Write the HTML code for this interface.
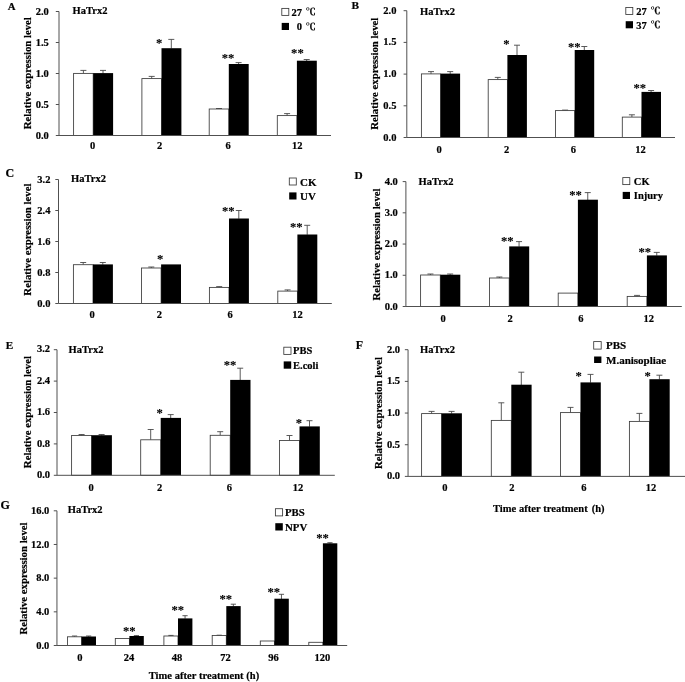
<!DOCTYPE html>
<html lang="en"><head><meta charset="utf-8"><title>HaTrx2 relative expression</title>
<style>
html,body{margin:0;padding:0;background:#fff;}
body{width:685px;height:682px;overflow:hidden;}
svg{display:block;}
svg text{font-family:"Liberation Serif","Noto Serif CJK SC",serif;font-weight:bold;font-size:10.5px;fill:#000;stroke:#000;stroke-width:0.2px;}
.ax{stroke:#505050;stroke-width:1;fill:none;}
.eb{stroke:#484848;stroke-width:0.9;fill:none;}
.w{fill:#fff;stroke:#3a3a3a;stroke-width:0.85;}
.k{fill:#000;stroke:none;}
svg text.st{font-size:12.6px;stroke-width:0.1px;}
.deg{stroke:#000;stroke-width:0.25;font-family:"Noto Serif CJK SC","Noto Sans CJK SC",serif;font-weight:700;}
</style></head><body>
<svg width="685" height="682" viewBox="0 0 685 682">
<rect x="0" y="0" width="685" height="682" fill="#fff"/>
<g>
<text x="7.8" y="10.1" style="font-size:10.8px">A</text>
<path class="eb" d="M83.4 73.4V70.4M80.4 70.4H86.4"/>
<path class="eb" d="M103 73.4V70.4M100 70.4H106"/>
<rect class="w" x="73.6" y="73.4" width="19.6" height="62.1"/>
<rect class="k" x="93.2" y="73.1" width="19.9" height="62.4"/>
<path class="eb" d="M151.7 78.6V76.4M148.7 76.4H154.7"/>
<path class="eb" d="M171.3 48.5V39.4M168.3 39.4H174.3"/>
<rect class="w" x="141.9" y="78.6" width="19.6" height="56.9"/>
<rect class="k" x="161.5" y="48.2" width="19.9" height="87.3"/>
<path class="eb" d="M219 109V108.5M216 108.5H222"/>
<path class="eb" d="M238.6 64.3V62.6M235.6 62.6H241.6"/>
<rect class="w" x="209.2" y="109" width="19.6" height="26.5"/>
<rect class="k" x="228.8" y="64" width="19.9" height="71.5"/>
<path class="eb" d="M287.1 115.6V113.6M284.1 113.6H290.1"/>
<path class="eb" d="M306.7 61V59.5M303.7 59.5H309.7"/>
<rect class="w" x="277.3" y="115.6" width="19.6" height="19.9"/>
<rect class="k" x="296.9" y="60.7" width="19.9" height="74.8"/>
<path class="ax" d="M59 11.5V135.5H331"/>
<path class="ax" d="M55.8 135.5H59"/>
<text x="48.8" y="138.5" text-anchor="end">0.0</text>
<path class="ax" d="M55.8 104.5H59"/>
<text x="48.8" y="107.5" text-anchor="end">0.5</text>
<path class="ax" d="M55.8 73.5H59"/>
<text x="48.8" y="76.5" text-anchor="end">1.0</text>
<path class="ax" d="M55.8 42.5H59"/>
<text x="48.8" y="45.5" text-anchor="end">1.5</text>
<path class="ax" d="M55.8 11.5H59"/>
<text x="48.8" y="14.5" text-anchor="end">2.0</text>
<text x="72.6" y="13.8">HaTrx2</text>
<text transform="translate(31 73.2) rotate(-90)" text-anchor="middle" style="font-size:10.75px">Relative expression level</text>
<text x="92.6" y="149.4" text-anchor="middle">0</text>
<text x="159.7" y="149.4" text-anchor="middle">2</text>
<text x="228.1" y="149.4" text-anchor="middle">6</text>
<text x="297.3" y="149.4" text-anchor="middle">12</text>
<text x="159.1" y="47.1" text-anchor="middle" class="st">*</text>
<text x="228.1" y="62.1" text-anchor="middle" class="st">**</text>
<text x="297.4" y="57.1" text-anchor="middle" class="st">**</text>
<rect class="w" x="281.8" y="8.4" width="7" height="7"/>
<rect class="k" x="281.7" y="22.9" width="7.3" height="7.1"/>
<text x="301.9" y="15.6" text-anchor="end" style="font-size:10.5px">27</text>
<text class="deg" transform="translate(305.8 15.1) scale(1.12 1)" style="font-size:8.9px">℃</text>
<text x="301.9" y="30.3" text-anchor="end" style="font-size:10.5px">0</text>
<text class="deg" transform="translate(305.8 29.8) scale(1.12 1)" style="font-size:8.9px">℃</text>
</g>
<g>
<text x="351.5" y="8.6" style="font-size:11.3px">B</text>
<path class="eb" d="M431 73.9V71.6M428 71.6H434"/>
<path class="eb" d="M450.2 73.9V71.6M447.2 71.6H453.2"/>
<rect class="w" x="421.4" y="73.9" width="19.2" height="63.6"/>
<rect class="k" x="440.6" y="73.6" width="19.5" height="63.9"/>
<path class="eb" d="M497.8 79.6V77.4M494.8 77.4H500.8"/>
<path class="eb" d="M517 55.3V45.2M514 45.2H520"/>
<rect class="w" x="488.2" y="79.6" width="19.2" height="57.9"/>
<rect class="k" x="507.4" y="55" width="19.5" height="82.5"/>
<path class="eb" d="M565.1 110.6V110.1M562.1 110.1H568.1"/>
<path class="eb" d="M584.3 50.3V46.5M581.3 46.5H587.3"/>
<rect class="w" x="555.5" y="110.6" width="19.2" height="26.9"/>
<rect class="k" x="574.7" y="50" width="19.5" height="87.5"/>
<path class="eb" d="M631.9 117.1V114.8M628.9 114.8H634.9"/>
<path class="eb" d="M651.1 92.2V90.5M648.1 90.5H654.1"/>
<rect class="w" x="622.3" y="117.1" width="19.2" height="20.4"/>
<rect class="k" x="641.5" y="91.9" width="19.5" height="45.6"/>
<path class="ax" d="M406.8 10.7V137.5H675"/>
<path class="ax" d="M403.6 137.5H406.8"/>
<text x="396.4" y="140.5" text-anchor="end">0.0</text>
<path class="ax" d="M403.6 105.8H406.8"/>
<text x="396.4" y="108.8" text-anchor="end">0.5</text>
<path class="ax" d="M403.6 74.1H406.8"/>
<text x="396.4" y="77.1" text-anchor="end">1.0</text>
<path class="ax" d="M403.6 42.4H406.8"/>
<text x="396.4" y="45.4" text-anchor="end">1.5</text>
<path class="ax" d="M403.6 10.7H406.8"/>
<text x="396.4" y="13.7" text-anchor="end">2.0</text>
<text x="420.1" y="14.6">HaTrx2</text>
<text transform="translate(378.3 73.7) rotate(-90)" text-anchor="middle" style="font-size:10.75px">Relative expression level</text>
<text x="439.2" y="152.6" text-anchor="middle">0</text>
<text x="506.6" y="152.6" text-anchor="middle">2</text>
<text x="573.3" y="152.6" text-anchor="middle">6</text>
<text x="640.6" y="152.6" text-anchor="middle">12</text>
<text x="506.3" y="47.6" text-anchor="middle" class="st">*</text>
<text x="574.3" y="50.9" text-anchor="middle" class="st">**</text>
<text x="639.7" y="92.3" text-anchor="middle" class="st">**</text>
<rect class="w" x="625.8" y="7.5" width="7" height="7"/>
<rect class="k" x="625.7" y="21.2" width="7.3" height="7.1"/>
<text x="646.7" y="14.7" text-anchor="end" style="font-size:10.5px">27</text>
<text class="deg" transform="translate(650.6 14.2) scale(1.12 1)" style="font-size:8.9px">℃</text>
<text x="646.7" y="28.6" text-anchor="end" style="font-size:10.5px">37</text>
<text class="deg" transform="translate(650.6 28.1) scale(1.12 1)" style="font-size:8.9px">℃</text>
</g>
<g>
<text x="5.5" y="177.1" style="font-size:12px">C</text>
<path class="eb" d="M83.2 264.7V262.5M80.2 262.5H86.2"/>
<path class="eb" d="M102.8 264.7V262.5M99.8 262.5H105.8"/>
<rect class="w" x="73.4" y="264.7" width="19.6" height="38.8"/>
<rect class="k" x="93" y="264.4" width="19.9" height="39.1"/>
<path class="eb" d="M151.3 268V267M148.3 267H154.3"/>
<rect class="w" x="141.5" y="268" width="19.6" height="35.5"/>
<rect class="k" x="161.1" y="264.4" width="19.9" height="39.1"/>
<path class="eb" d="M219.2 287.4V286.6M216.2 286.6H222.2"/>
<path class="eb" d="M238.8 218.8V210.5M235.8 210.5H241.8"/>
<rect class="w" x="209.4" y="287.4" width="19.6" height="16.1"/>
<rect class="k" x="229" y="218.5" width="19.9" height="85"/>
<path class="eb" d="M287.6 291.1V289.9M284.6 289.9H290.6"/>
<path class="eb" d="M307.2 234.8V225.3M304.2 225.3H310.2"/>
<rect class="w" x="277.8" y="291.1" width="19.6" height="12.4"/>
<rect class="k" x="297.4" y="234.5" width="19.9" height="69"/>
<path class="ax" d="M58.5 179.5V303.5H331.8"/>
<path class="ax" d="M55.3 303.5H58.5"/>
<text x="50.4" y="306.7" text-anchor="end">0.0</text>
<path class="ax" d="M55.3 272.5H58.5"/>
<text x="50.4" y="275.7" text-anchor="end">0.8</text>
<path class="ax" d="M55.3 241.5H58.5"/>
<text x="50.4" y="244.7" text-anchor="end">1.6</text>
<path class="ax" d="M55.3 210.5H58.5"/>
<text x="50.4" y="213.7" text-anchor="end">2.4</text>
<path class="ax" d="M55.3 179.5H58.5"/>
<text x="50.4" y="182.7" text-anchor="end">3.2</text>
<text x="71.1" y="182.2">HaTrx2</text>
<text transform="translate(31.3 239.6) rotate(-90)" text-anchor="middle" style="font-size:10.75px">Relative expression level</text>
<text x="92" y="317.9" text-anchor="middle">0</text>
<text x="159.3" y="317.9" text-anchor="middle">2</text>
<text x="230" y="317.9" text-anchor="middle">6</text>
<text x="297.6" y="317.9" text-anchor="middle">12</text>
<text x="160.1" y="263.4" text-anchor="middle" class="st">*</text>
<text x="228.3" y="215.4" text-anchor="middle" class="st">**</text>
<text x="296.2" y="230.5" text-anchor="middle" class="st">**</text>
<rect class="w" x="289.3" y="178" width="7" height="7"/>
<rect class="k" x="289.2" y="192.4" width="7.3" height="7.1"/>
<text x="300.1" y="185.9" style="font-size:11px">CK</text>
<text x="300.1" y="199.8" style="font-size:11px">UV</text>
</g>
<g>
<text x="354.5" y="179.4" style="font-size:11.3px">D</text>
<path class="eb" d="M430.45 275V274M427.45 274H433.45"/>
<path class="eb" d="M450.15 275V274M447.15 274H453.15"/>
<rect class="w" x="420.6" y="275" width="19.7" height="31.5"/>
<rect class="k" x="440.3" y="274.7" width="20" height="31.8"/>
<path class="eb" d="M499.35 278V277M496.35 277H502.35"/>
<path class="eb" d="M519.05 246.7V241.6M516.05 241.6H522.05"/>
<rect class="w" x="489.5" y="278" width="19.7" height="28.5"/>
<rect class="k" x="509.2" y="246.4" width="20" height="60.1"/>
<path class="eb" d="M587.75 200V192.6M584.75 192.6H590.75"/>
<rect class="w" x="558.2" y="293.1" width="19.7" height="13.4"/>
<rect class="k" x="577.9" y="199.7" width="20" height="106.8"/>
<path class="eb" d="M637.05 296.4V295.4M634.05 295.4H640.05"/>
<path class="eb" d="M656.75 255.7V252.4M653.75 252.4H659.75"/>
<rect class="w" x="627.2" y="296.4" width="19.7" height="10.1"/>
<rect class="k" x="646.9" y="255.4" width="20" height="51.1"/>
<path class="ax" d="M405.9 181.6V306.5H681.8"/>
<path class="ax" d="M402.7 306.5H405.9"/>
<text x="397.8" y="309.7" text-anchor="end">0.0</text>
<path class="ax" d="M402.7 275.27H405.9"/>
<text x="397.8" y="278.48" text-anchor="end">1.0</text>
<path class="ax" d="M402.7 244.05H405.9"/>
<text x="397.8" y="247.25" text-anchor="end">2.0</text>
<path class="ax" d="M402.7 212.82H405.9"/>
<text x="397.8" y="216.02" text-anchor="end">3.0</text>
<path class="ax" d="M402.7 181.6H405.9"/>
<text x="397.8" y="184.8" text-anchor="end">4.0</text>
<text x="418.6" y="185.1">HaTrx2</text>
<text transform="translate(379.9 244.5) rotate(-90)" text-anchor="middle" style="font-size:10.75px">Relative expression level</text>
<text x="443.2" y="322.1" text-anchor="middle">0</text>
<text x="510" y="322.1" text-anchor="middle">2</text>
<text x="580.8" y="322.1" text-anchor="middle">6</text>
<text x="648.7" y="322.1" text-anchor="middle">12</text>
<text x="507.3" y="244.5" text-anchor="middle" class="st">**</text>
<text x="575.6" y="199.3" text-anchor="middle" class="st">**</text>
<text x="644.7" y="255.9" text-anchor="middle" class="st">**</text>
<rect class="w" x="622.8" y="177.6" width="7" height="7"/>
<rect class="k" x="622.7" y="191.9" width="7.3" height="7.1"/>
<text x="633.8" y="184.8" style="font-size:10.5px">CK</text>
<text x="633.8" y="199.3" style="font-size:10.5px">Injury</text>
</g>
<g>
<text x="5.8" y="349.2" style="font-size:11.2px">E</text>
<path class="eb" d="M81.6 435.5V434.5M78.6 434.5H84.6"/>
<path class="eb" d="M101.6 435.5V434.5M98.6 434.5H104.6"/>
<rect class="w" x="71.6" y="435.5" width="20" height="39.8"/>
<rect class="k" x="91.6" y="435.2" width="20.3" height="40.1"/>
<path class="eb" d="M150.7 439.8V429.5M147.7 429.5H153.7"/>
<path class="eb" d="M170.7 418.2V414.6M167.7 414.6H173.7"/>
<rect class="w" x="140.7" y="439.8" width="20" height="35.5"/>
<rect class="k" x="160.7" y="417.9" width="20.3" height="57.4"/>
<path class="eb" d="M220.2 435.3V431.7M217.2 431.7H223.2"/>
<path class="eb" d="M240.2 380.2V368.2M237.2 368.2H243.2"/>
<rect class="w" x="210.2" y="435.3" width="20" height="40"/>
<rect class="k" x="230.2" y="379.9" width="20.3" height="95.4"/>
<path class="eb" d="M289.5 440.5V435.5M286.5 435.5H292.5"/>
<path class="eb" d="M309.5 426.7V420.7M306.5 420.7H312.5"/>
<rect class="w" x="279.5" y="440.5" width="20" height="34.8"/>
<rect class="k" x="299.5" y="426.4" width="20.3" height="48.9"/>
<path class="ax" d="M57 349.7V475.3H334.8"/>
<path class="ax" d="M53.8 475.3H57"/>
<text x="50.1" y="477.9" text-anchor="end">0.0</text>
<path class="ax" d="M53.8 443.9H57"/>
<text x="50.1" y="446.5" text-anchor="end">0.8</text>
<path class="ax" d="M53.8 412.5H57"/>
<text x="50.1" y="415.1" text-anchor="end">1.6</text>
<path class="ax" d="M53.8 381.1H57"/>
<text x="50.1" y="383.7" text-anchor="end">2.4</text>
<path class="ax" d="M53.8 349.7H57"/>
<text x="50.1" y="352.3" text-anchor="end">3.2</text>
<text x="68.6" y="353.1">HaTrx2</text>
<text transform="translate(31 412.1) rotate(-90)" text-anchor="middle" style="font-size:10.75px">Relative expression level</text>
<text x="91" y="490.7" text-anchor="middle">0</text>
<text x="159.5" y="490.7" text-anchor="middle">2</text>
<text x="229.3" y="490.7" text-anchor="middle">6</text>
<text x="298.1" y="490.7" text-anchor="middle">12</text>
<text x="159.6" y="416.8" text-anchor="middle" class="st">*</text>
<text x="230.1" y="369.3" text-anchor="middle" class="st">**</text>
<text x="298.9" y="427.1" text-anchor="middle" class="st">*</text>
<rect class="w" x="283.8" y="347.2" width="7.2" height="7.2"/>
<rect class="k" x="283.7" y="361.4" width="7.5" height="7.3"/>
<text x="293" y="353.9" style="font-size:10.5px">PBS</text>
<text x="293" y="369" style="font-size:10.5px">E.coli</text>
</g>
<g>
<text x="355.8" y="348.5" style="font-size:12px">F</text>
<path class="eb" d="M431.6 413.6V411.4M428.6 411.4H434.6"/>
<path class="eb" d="M451.6 413.6V411.4M448.6 411.4H454.6"/>
<rect class="w" x="421.6" y="413.6" width="20" height="62.8"/>
<rect class="k" x="441.6" y="413.3" width="20.3" height="63.1"/>
<path class="eb" d="M501.3 420.4V402.8M498.3 402.8H504.3"/>
<path class="eb" d="M521.3 385V372.2M518.3 372.2H524.3"/>
<rect class="w" x="491.3" y="420.4" width="20" height="56"/>
<rect class="k" x="511.3" y="384.7" width="20.3" height="91.7"/>
<path class="eb" d="M570.5 412.6V407.4M567.5 407.4H573.5"/>
<path class="eb" d="M590.5 382.7V374.4M587.5 374.4H593.5"/>
<rect class="w" x="560.5" y="412.6" width="20" height="63.8"/>
<rect class="k" x="580.5" y="382.4" width="20.3" height="94"/>
<path class="eb" d="M639.4 421.4V413.4M636.4 413.4H642.4"/>
<path class="eb" d="M659.4 379.5V375.2M656.4 375.2H662.4"/>
<rect class="w" x="629.4" y="421.4" width="20" height="55"/>
<rect class="k" x="649.4" y="379.2" width="20.3" height="97.2"/>
<path class="ax" d="M408.05 349.7V476.4H686"/>
<path class="ax" d="M404.85 476.4H408.05"/>
<text x="400" y="479.4" text-anchor="end">0.0</text>
<path class="ax" d="M404.85 444.72H408.05"/>
<text x="400" y="447.72" text-anchor="end">0.5</text>
<path class="ax" d="M404.85 413.05H408.05"/>
<text x="400" y="416.05" text-anchor="end">1.0</text>
<path class="ax" d="M404.85 381.38H408.05"/>
<text x="400" y="384.38" text-anchor="end">1.5</text>
<path class="ax" d="M404.85 349.7H408.05"/>
<text x="400" y="352.7" text-anchor="end">2.0</text>
<text x="420.1" y="353.1">HaTrx2</text>
<text transform="translate(381.6 413) rotate(-90)" text-anchor="middle" style="font-size:10.75px">Relative expression level</text>
<text x="444.8" y="490.9" text-anchor="middle">0</text>
<text x="511.8" y="490.9" text-anchor="middle">2</text>
<text x="583.9" y="490.9" text-anchor="middle">6</text>
<text x="651" y="490.9" text-anchor="middle">12</text>
<text x="578.6" y="380.1" text-anchor="middle" class="st">*</text>
<text x="647.7" y="380.1" text-anchor="middle" class="st">*</text>
<rect class="w" x="593.7" y="341.6" width="7.5" height="7.5"/>
<rect class="k" x="594.1" y="356.5" width="7.3" height="6.5"/>
<text x="606" y="348.8" style="font-size:11px">PBS</text>
<text x="606" y="363.6" style="font-size:11px">M.anisopliae</text>
<text x="492.9" y="511.8" style="letter-spacing:0.05px">Time after treatment <tspan dx="1.2">(h)</tspan></text>
</g>
<g>
<text x="0.5" y="508.6" style="font-size:12px">G</text>
<path class="eb" d="M74.55 636.8V636M71.95 636H77.15"/>
<path class="eb" d="M88.65 636.8V636M86.05 636H91.25"/>
<rect class="w" x="67.5" y="636.8" width="14.1" height="8.7"/>
<rect class="k" x="81.6" y="636.5" width="14.4" height="9"/>
<path class="eb" d="M136.45 636.3V635.6M133.85 635.6H139.05"/>
<rect class="w" x="115.3" y="638.5" width="14.1" height="7"/>
<rect class="k" x="129.4" y="636" width="14.4" height="9.5"/>
<path class="eb" d="M170.95 636V635.4M168.35 635.4H173.55"/>
<path class="eb" d="M185.05 618.7V615.7M182.45 615.7H187.65"/>
<rect class="w" x="163.9" y="636" width="14.1" height="9.5"/>
<rect class="k" x="178" y="618.4" width="14.4" height="27.1"/>
<path class="eb" d="M219.25 635.5V635.2M216.65 635.2H221.85"/>
<path class="eb" d="M233.35 606.4V604.2M230.75 604.2H235.95"/>
<rect class="w" x="212.2" y="635.5" width="14.1" height="10"/>
<rect class="k" x="226.3" y="606.1" width="14.4" height="39.4"/>
<path class="eb" d="M281.45 599V594.3M278.85 594.3H284.05"/>
<rect class="w" x="260.3" y="641" width="14.1" height="4.5"/>
<rect class="k" x="274.4" y="598.7" width="14.4" height="46.8"/>
<path class="eb" d="M329.95 543.6V542.7M327.35 542.7H332.55"/>
<rect class="w" x="308.8" y="642.3" width="14.1" height="3.2"/>
<rect class="k" x="322.9" y="543.3" width="14.4" height="102.2"/>
<path class="ax" d="M56.95 510.8V645.5H347.2"/>
<path class="ax" d="M53.75 645.5H56.95"/>
<text x="49.3" y="648.6" text-anchor="end">0.0</text>
<path class="ax" d="M53.75 611.83H56.95"/>
<text x="49.3" y="614.93" text-anchor="end">4.0</text>
<path class="ax" d="M53.75 578.15H56.95"/>
<text x="49.3" y="581.25" text-anchor="end">8.0</text>
<path class="ax" d="M53.75 544.48H56.95"/>
<text x="49.3" y="547.58" text-anchor="end">12.0</text>
<path class="ax" d="M53.75 510.8H56.95"/>
<text x="49.3" y="513.9" text-anchor="end">16.0</text>
<text x="67.8" y="513.4">HaTrx2</text>
<text transform="translate(26.5 578.5) rotate(-90)" text-anchor="middle" style="font-size:10.75px">Relative expression level</text>
<text x="79.8" y="661.3" text-anchor="middle">0</text>
<text x="129" y="661.3" text-anchor="middle">24</text>
<text x="177" y="661.3" text-anchor="middle">48</text>
<text x="225.5" y="661.3" text-anchor="middle">72</text>
<text x="273.5" y="661.3" text-anchor="middle">96</text>
<text x="322.3" y="661.3" text-anchor="middle">120</text>
<text x="129.3" y="635.2" text-anchor="middle" class="st">**</text>
<text x="177.8" y="614.3" text-anchor="middle" class="st">**</text>
<text x="225.8" y="602.8" text-anchor="middle" class="st">**</text>
<text x="273.8" y="595.9" text-anchor="middle" class="st">**</text>
<text x="322.6" y="542.4" text-anchor="middle" class="st">**</text>
<rect class="w" x="275.4" y="508.7" width="7.2" height="7.2"/>
<rect class="k" x="275.3" y="523.2" width="7.5" height="7.3"/>
<text x="285" y="516.1" style="font-size:10.8px">PBS</text>
<text x="285" y="530.8" style="font-size:10.8px">NPV</text>
<text x="148.7" y="679.4" style="letter-spacing:0.05px">Time after treatment <tspan dx="0">(h)</tspan></text>
</g>
</svg>
</body></html>
